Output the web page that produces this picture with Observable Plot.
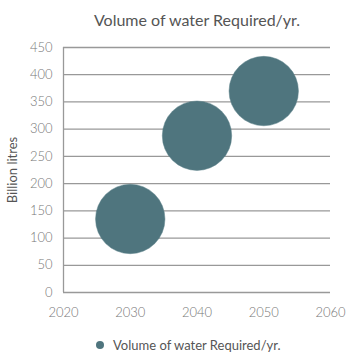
<!DOCTYPE html>
<html>
<head>
<meta charset="utf-8">
<script src="https://cdn.jsdelivr.net/npm/d3@7"></script>
<script src="https://cdn.jsdelivr.net/npm/@observablehq/plot@0.6"></script>
<style>
  html, body { margin: 0; padding: 0; background: #fff; }
  body { width: 357px; height: 364px; position: relative; overflow: hidden; font-family: Lato, "Open Sans", sans-serif; }
  #title { position: absolute; left: 0; top: 10px; width: 357px; padding-left: 37px; box-sizing: border-box; text-align: center; font-size: 16px; color: #555; }
  #chart { position: absolute; left: 0; top: 36px; }
  #legend { position: absolute; left: 96px; top: 337px; font-size: 13px; color: #555; display: flex; align-items: center; }
  #legend .sw { width: 8px; height: 8px; border-radius: 50%; background: #4f757e; margin-right: 9px; }
  #chart svg g[aria-label$="tick label"] text { font-weight: 300; }
</style>
</head>
<body>
<div id="title">Volume of water Required/yr.</div>
<div id="chart"></div>
<div id="legend"><span class="sw"></span><span>Volume of water Required/yr.</span></div>
<script>
const years = [2030, 2040, 2050];
const volumes = [135, 288, 370];
const yTicks = [0, 50, 100, 150, 200, 250, 300, 350, 400, 450];
const xTicks = [2020, 2030, 2040, 2050, 2060];
const seriesName = "Volume of water Required/yr.";

const data = years.map((y, i) => ({year: y, value: volumes[i]}));

const chart = Plot.plot({
  width: 357,
  height: 290,
  marginTop: 11,
  marginBottom: 34,
  marginLeft: 63,
  marginRight: 27,
  style: {fontFamily: "Lato, 'Open Sans', sans-serif", fontSize: "13px", color: "#777", background: "transparent"},
  x: {domain: [2020, 2060], ticks: xTicks, tickFormat: d => String(d), tickSize: 0, tickPadding: 15, label: null},
  y: {domain: [0, 450], ticks: yTicks, tickSize: 0, tickPadding: 11, label: null},
  marks: [
    Plot.ruleY(yTicks, {stroke: "#999", strokeWidth: 1.3}),
    Plot.ruleX([2020], {stroke: "#999", strokeWidth: 1.3}),
    Plot.dot(data, {x: "year", y: "value", r: 34.7, fill: "#4f757e", stroke: "#5a8089", strokeWidth: 0.5, title: () => seriesName}),
    Plot.axisX({ticks: xTicks, tickFormat: d => String(d), tickSize: 0, tickPadding: 15, label: null, fill: "#777"}),
    Plot.axisY({ticks: yTicks, tickSize: 0, tickPadding: 11, label: null, fill: "#777"}),
    Plot.text(["Billion litres"], {frameAnchor: "left", textAnchor: "middle", dx: -51, rotate: -90, fontSize: 13, fill: "#555"})
  ]
});
document.getElementById("chart").appendChild(chart);
</script>
</body>
</html>
